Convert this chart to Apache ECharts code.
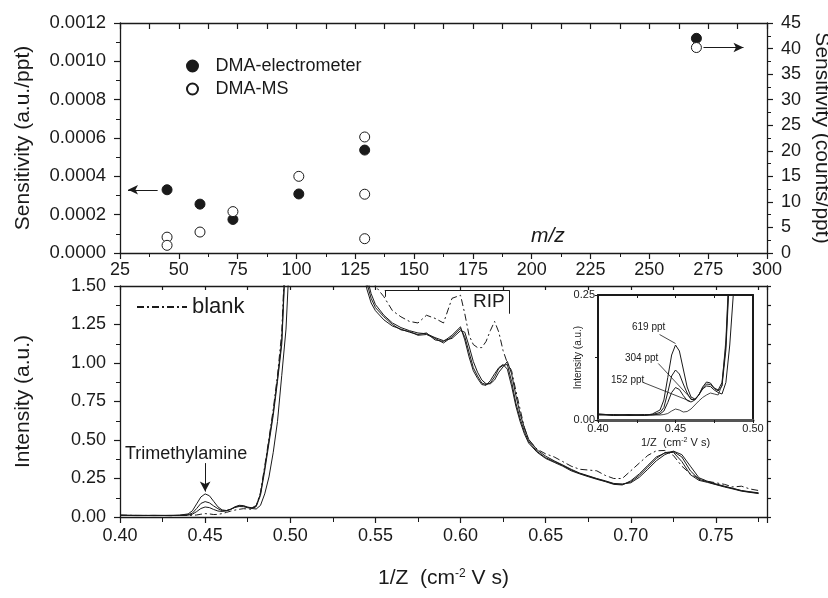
<!DOCTYPE html>
<html>
<head>
<meta charset="utf-8">
<script src="https://cdn.jsdelivr.net/npm/echarts@6/dist/echarts.min.js"></script>
<style>
  html, body { margin: 0; padding: 0; background: #fff; }
  #chart { width: 828px; height: 598px; }
</style>
</head>
<body>
<div id="chart"></div>
<script>
// top panel: sensitivity vs m/z
var mzElec = [45, 59, 73, 101, 129, 270];
var sensElec = [0.00033, 0.000255, 0.000175, 0.000308, 0.000537, 0.00112];
var mzMs = [45, 45, 59, 73, 101, 129, 129, 129, 270];
var sensMs = [3.1, 1.5, 4.1, 8.1, 15.0, 22.7, 11.5, 2.8, 40.2];

// bottom panel: mobility spectra, 1/Z
var xs = [0.400, 0.410, 0.420, 0.430, 0.435, 0.440, 0.4425, 0.445, 0.4475, 0.450, 0.4525, 0.455, 0.4575, 0.460, 0.4625, 0.465, 0.4675, 0.470, 0.4725, 0.475, 0.4775,
  0.480, 0.4825, 0.485, 0.4875, 0.490, 0.4925, 0.495, 0.4975, 0.500, 0.5025,
  0.540, 0.5425, 0.545, 0.5475, 0.550, 0.555, 0.560, 0.565, 0.570, 0.575, 0.580, 0.585, 0.590, 0.595, 0.600, 0.6025, 0.605, 0.6075, 0.610, 0.6125, 0.615, 0.6175, 0.620, 0.6225, 0.625, 0.6275, 0.630, 0.6325, 0.635, 0.6375,
  0.640, 0.645, 0.650, 0.655, 0.660, 0.665, 0.670, 0.675, 0.680, 0.685, 0.690, 0.695, 0.700, 0.705, 0.710, 0.715, 0.720, 0.725, 0.730, 0.735, 0.740, 0.745, 0.750, 0.755, 0.760, 0.765, 0.770, 0.775];

var ppt619 = [0.012, 0.010, 0.011, 0.009, 0.012, 0.020, 0.040, 0.085, 0.130, 0.150, 0.138, 0.102, 0.066, 0.046, 0.042, 0.050, 0.066, 0.076, 0.074, 0.064, 0.060,
  0.075, 0.150, 0.320, 0.500, 0.680, 0.900, 1.150, 1.800, 2.600, 3.000,
  3.000, 1.650, 1.480, 1.390, 1.340, 1.280, 1.240, 1.220, 1.200, 1.185, 1.195, 1.150, 1.140, 1.180, 1.235, 1.150, 1.040, 0.950, 0.900, 0.860, 0.855, 0.885, 0.930, 0.970, 0.990, 0.960, 0.850, 0.720, 0.620, 0.540,
  0.480, 0.420, 0.380, 0.355, 0.330, 0.300, 0.280, 0.262, 0.245, 0.230, 0.212, 0.208, 0.235, 0.280, 0.335, 0.390, 0.415, 0.420, 0.360, 0.275, 0.238, 0.225, 0.210, 0.195, 0.182, 0.168, 0.160, 0.152];
var ppt304 = [0.010, 0.011, 0.009, 0.010, 0.011, 0.015, 0.025, 0.055, 0.088, 0.100, 0.092, 0.072, 0.054, 0.041, 0.041, 0.050, 0.064, 0.072, 0.071, 0.063, 0.058,
  0.068, 0.140, 0.300, 0.480, 0.660, 0.880, 1.120, 1.750, 2.600, 3.000,
  3.000, 1.750, 1.520, 1.420, 1.360, 1.300, 1.250, 1.215, 1.205, 1.180, 1.185, 1.160, 1.130, 1.170, 1.225, 1.170, 1.070, 0.970, 0.915, 0.870, 0.860, 0.870, 0.910, 0.965, 0.985, 0.990, 0.880, 0.740, 0.640, 0.555,
  0.490, 0.425, 0.385, 0.360, 0.335, 0.305, 0.283, 0.265, 0.248, 0.232, 0.215, 0.212, 0.228, 0.270, 0.325, 0.380, 0.418, 0.425, 0.390, 0.300, 0.245, 0.228, 0.212, 0.198, 0.185, 0.170, 0.162, 0.155];
var ppt152 = [0.011, 0.009, 0.010, 0.011, 0.010, 0.012, 0.018, 0.035, 0.055, 0.065, 0.061, 0.049, 0.039, 0.036, 0.040, 0.050, 0.062, 0.068, 0.067, 0.060, 0.055,
  0.052, 0.075, 0.150, 0.260, 0.420, 0.620, 0.920, 1.220, 1.800, 3.000,
  3.000, 3.000, 1.560, 1.450, 1.380, 1.310, 1.260, 1.230, 1.210, 1.195, 1.190, 1.165, 1.145, 1.160, 1.210, 1.200, 1.110, 1.010, 0.940, 0.890, 0.865, 0.865, 0.890, 0.940, 0.975, 1.010, 0.930, 0.790, 0.670, 0.580,
  0.505, 0.435, 0.395, 0.365, 0.338, 0.310, 0.285, 0.268, 0.250, 0.235, 0.218, 0.214, 0.222, 0.258, 0.310, 0.365, 0.405, 0.428, 0.405, 0.330, 0.255, 0.232, 0.215, 0.200, 0.186, 0.172, 0.164, 0.157];
var blank = [0.012, 0.010, 0.010, 0.009, 0.010, 0.010, 0.011, 0.013, 0.018, 0.022, 0.020, 0.016, 0.017, 0.022, 0.030, 0.038, 0.045, 0.050, 0.054, 0.052, 0.050,
  0.070, 0.160, 0.330, 0.510, 0.700, 0.920, 1.200, 1.850, 2.600, 3.000,
  3.000, 3.000, 1.800, 1.600, 1.500, 1.430, 1.340, 1.300, 1.270, 1.260, 1.310, 1.290, 1.260, 1.420, 1.440, 1.320, 1.180, 1.120, 1.100, 1.100, 1.140, 1.210, 1.270, 1.200, 1.080, 1.000, 0.950, 0.820, 0.700, 0.580,
  0.500, 0.440, 0.410, 0.390, 0.360, 0.330, 0.310, 0.305, 0.300, 0.270, 0.250, 0.250, 0.300, 0.350, 0.400, 0.430, 0.432, 0.400, 0.330, 0.280, 0.250, 0.232, 0.222, 0.212, 0.195, 0.200, 0.182, 0.172];

var FONT = 'Liberation Sans, Arial, sans-serif';
var INK = '#1a1a1a';

function zip(a, b) { return a.map(function (v, i) { return [v, b[i]]; }); }
function spec(v) { return xs.map(function (x, i) { return [x, v[i]]; }); }

var chart = echarts.init(document.getElementById('chart'));

function frameAxis(o) {
  var base = {
    type: 'value',
    nameMoveOverlap: false,
    axisLine: { show: true, onZero: false, lineStyle: { color: INK, width: 1.3 } },
    axisTick: { show: true, lineStyle: { color: INK, width: 1.2 }, length: 6 },
    minorTick: { show: false },
    splitLine: { show: false },
    axisLabel: { color: INK, fontSize: 18, fontFamily: FONT },
    nameTextStyle: { color: INK, fontFamily: FONT }
  };
  return echarts.util.merge(base, o, true);
}

var lineS = { color: INK, width: 1 };
var dashS = { color: INK, width: 1, type: [7, 3, 2, 3] };

function specSeries(name, data, xi, yi, style, extra) {
  var s = {
    name: name, type: 'line', xAxisIndex: xi, yAxisIndex: yi,
    data: spec(data), showSymbol: false, symbol: 'none', clip: true,
    lineStyle: style, itemStyle: { color: INK }, silent: true
  };
  return Object.assign(s, extra || {});
}

var plainMark = { silent: true, symbol: ['none', 'none'], label: { show: false } };

var option = {
  animation: false,
  backgroundColor: '#fff',
  textStyle: { fontFamily: FONT },
  grid: [
    { left: 120, top: 23, width: 647, height: 230, outerBoundsMode: 'none' },
    { left: 120, top: 286, width: 647, height: 231, outerBoundsMode: 'none' },
    { left: 598, top: 295, width: 155, height: 125, show: true, backgroundColor: '#fff', borderWidth: 0, outerBoundsMode: 'none' }
  ],
  legend: [
    {
      data: ['DMA-electrometer', 'DMA-MS'], orient: 'vertical', left: 181, top: 52,
      itemWidth: 36, itemHeight: 11, itemGap: 5, icon: 'circle',
      textStyle: { fontSize: 18, color: INK, fontFamily: FONT }
    },
    {
      data: ['blank'], left: 131, top: 291, itemWidth: 50, itemHeight: 12,
      itemStyle: { opacity: 0 },
      textStyle: { fontSize: 22, color: INK, fontFamily: FONT }
    }
  ],
  xAxis: [
    frameAxis({ gridIndex: 0, position: 'bottom', min: 25, max: 300, interval: 25,
      minorTick: { show: true, splitNumber: 2, length: 4, lineStyle: { color: INK } },
      axisLabel: { margin: 8 } }),
    frameAxis({ gridIndex: 0, position: 'top', min: 25, max: 300, interval: 12.5,
      axisTick: { inside: true }, axisLabel: { show: false } }),
    frameAxis({ gridIndex: 1, position: 'bottom', min: 0.40, max: 0.78, interval: 0.05,
      minorTick: { show: true, splitNumber: 2, length: 5, lineStyle: { color: INK } },
      axisLabel: { margin: 10, formatter: function (v) { return v > 0.76 ? '' : v.toFixed(2); } },
      name: '1/Z  (cm{sup|-2} V s)', nameLocation: 'middle', nameGap: 51,
      nameTextStyle: { fontSize: 21, rich: { sup: { fontSize: 12, verticalAlign: 'top', lineHeight: 12 } } } }),
    frameAxis({ gridIndex: 1, position: 'top', min: 0.40, max: 0.78, interval: 0.025,
      axisTick: { inside: true, length: 4 }, axisLabel: { show: false } }),
    frameAxis({ gridIndex: 2, position: 'bottom', min: 0.40, max: 0.50, interval: 0.05,
      axisLine: { lineStyle: { color: '#555', width: 3 } },
      axisTick: { length: 3, lineStyle: { width: 1 } },
      minorTick: { show: true, splitNumber: 2, length: 3, lineStyle: { color: INK } },
      axisLabel: { fontSize: 11, margin: 3, formatter: function (v) { return v.toFixed(2); } },
      name: '1/Z  (cm{sup|-2} V s)', nameLocation: 'middle', nameGap: 17,
      nameTextStyle: { fontSize: 11, rich: { sup: { fontSize: 7, verticalAlign: 'top', lineHeight: 7 } } } }),
    frameAxis({ gridIndex: 2, position: 'top', min: 0.40, max: 0.50, interval: 0.025,
      axisLine: { lineStyle: { width: 2 } },
      axisTick: { inside: true, length: 3, lineStyle: { width: 1 } }, axisLabel: { show: false } })
  ],
  yAxis: [
    frameAxis({ gridIndex: 0, position: 'left', min: 0, max: 0.0012, interval: 0.0002,
      minorTick: { show: true, splitNumber: 2, length: 4, lineStyle: { color: INK } },
      axisLabel: { margin: 14, fontSize: 18.5, formatter: function (v) { return v.toFixed(4); } },
      name: 'Sensitivity (a.u./ppt)', nameLocation: 'middle', nameGap: 86,
      nameTextStyle: { fontSize: 21 } }),
    frameAxis({ gridIndex: 0, position: 'right', min: 0, max: 45, interval: 5,
      minorTick: { show: true, splitNumber: 2, length: 4, lineStyle: { color: INK } },
      axisLabel: { margin: 14 },
      name: 'Sensitivity (counts/ppt)', nameLocation: 'middle', nameGap: 44, nameRotate: -90,
      nameTextStyle: { fontSize: 21 } }),
    frameAxis({ gridIndex: 1, position: 'left', min: 0, max: 1.5, interval: 0.25,
      minorTick: { show: true, splitNumber: 2, length: 4, lineStyle: { color: INK } },
      axisLabel: { margin: 14, formatter: function (v) { return v.toFixed(2); } },
      name: 'Intensity (a.u.)', nameLocation: 'middle', nameGap: 86,
      nameTextStyle: { fontSize: 21 } }),
    frameAxis({ gridIndex: 1, position: 'right', min: 0, max: 1.5, interval: 0.125,
      axisTick: { length: 4 }, axisLabel: { show: false } }),
    frameAxis({ gridIndex: 2, position: 'left', min: 0, max: 0.25, interval: 0.125,
      axisLine: { lineStyle: { width: 2 } },
      axisTick: { length: 3, lineStyle: { width: 1 } },
      axisLabel: { fontSize: 11, margin: 3, formatter: function (v) { return v === 0.125 ? '' : v.toFixed(2); } },
      name: 'Intensity (a.u.)', nameLocation: 'middle', nameGap: 15,
      nameTextStyle: { fontSize: 10 } }),
    frameAxis({ gridIndex: 2, position: 'right', min: 0, max: 0.25, interval: 0.125,
      axisLine: { lineStyle: { width: 2 } },
      axisTick: { show: false }, axisLabel: { show: false } })
  ],
  series: [
    {
      name: 'DMA-electrometer', type: 'scatter', xAxisIndex: 0, yAxisIndex: 0,
      data: zip(mzElec, sensElec), symbol: 'circle', symbolSize: 10,
      itemStyle: { color: INK, borderColor: INK, borderWidth: 1, opacity: 1 },
      markLine: {
        silent: true, symbol: ['none', 'arrow'], symbolSize: [7, 10],
        lineStyle: { color: INK, width: 1, type: 'solid' }, label: { show: false },
        data: [[{ coord: [41, 0.00033] }, { coord: [28.4, 0.00033] }]]
      }
    },
    {
      name: 'DMA-MS', type: 'scatter', xAxisIndex: 0, yAxisIndex: 1,
      data: zip(mzMs, sensMs), symbol: 'circle', symbolSize: 10,
      itemStyle: { color: '#fff', borderColor: INK, borderWidth: 1, opacity: 1 },
      markLine: {
        silent: true, symbol: ['none', 'arrow'], symbolSize: [7, 10],
        lineStyle: { color: INK, width: 1, type: 'solid' }, label: { show: false },
        data: [[{ coord: [273, 40.2] }, { coord: [290, 40.2] }]]
      }
    },
    specSeries('blank', blank, 2, 2, dashS),
    // RIP bracket and inner right frame line
    specSeries('152 ppt', ppt152, 2, 2, lineS, {
      markLine: Object.assign({}, plainMark, {
        lineStyle: { color: INK, width: 1, type: 'solid' },
        data: [
          [{ coord: [0.5555, 1.472] }, { coord: [0.6288, 1.472] }],
          [{ coord: [0.5555, 1.472] }, { coord: [0.5555, 1.43] }],
          [{ coord: [0.6288, 1.472] }, { coord: [0.6288, 1.32] }],
          { xAxis: 0.7765 }
        ]
      })
    }),
    specSeries('304 ppt', ppt304, 2, 2, lineS),
    specSeries('619 ppt', ppt619, 2, 2, lineS, {
      markLine: {
        silent: true, symbol: ['none', 'arrow'], symbolSize: [8, 10],
        lineStyle: { color: INK, width: 1, type: 'solid' }, label: { show: false },
        data: [[{ coord: [0.45, 0.35] }, { coord: [0.45, 0.165] }]]
      }
    }),
    specSeries('blank (inset)', blank, 4, 4, { color: INK, width: 0.8 }),
    specSeries('152 ppt (inset)', ppt152, 4, 4, { color: INK, width: 1 }),
    specSeries('304 ppt (inset)', ppt304, 4, 4, { color: INK, width: 1 }),
    specSeries('619 ppt (inset)', ppt619, 4, 4, { color: INK, width: 1 }, {
      markLine: Object.assign({}, plainMark, {
        lineStyle: { color: INK, width: 0.8, type: 'solid' },
        data: [
          [{ coord: [0.4397, 0.171] }, { coord: [0.45, 0.153] }],
          [{ coord: [0.4389, 0.113] }, { coord: [0.4609, 0.040] }],
          [{ coord: [0.4292, 0.075] }, { coord: [0.4592, 0.038] }]
        ]
      })
    })
  ],
  graphic: [
    { type: 'text', left: 531, top: 226, style: { text: 'm/z', fontSize: 21, fontStyle: 'italic', fill: INK, fontFamily: FONT } },
    { type: 'text', left: 125, top: 445, style: { text: 'Trimethylamine', fontSize: 18, fill: INK, fontFamily: FONT } },
    { type: 'text', left: 473, top: 292, style: { text: 'RIP', fontSize: 19, fill: INK, fontFamily: FONT } },
    { type: 'text', left: 632, top: 322, style: { text: '619 ppt', fontSize: 10, fill: INK, fontFamily: FONT } },
    { type: 'text', left: 625, top: 353, style: { text: '304 ppt', fontSize: 10, fill: INK, fontFamily: FONT } },
    { type: 'text', left: 611, top: 375, style: { text: '152 ppt', fontSize: 10, fill: INK, fontFamily: FONT } }
  ]
};

chart.setOption(option);
</script>
</body>
</html>
